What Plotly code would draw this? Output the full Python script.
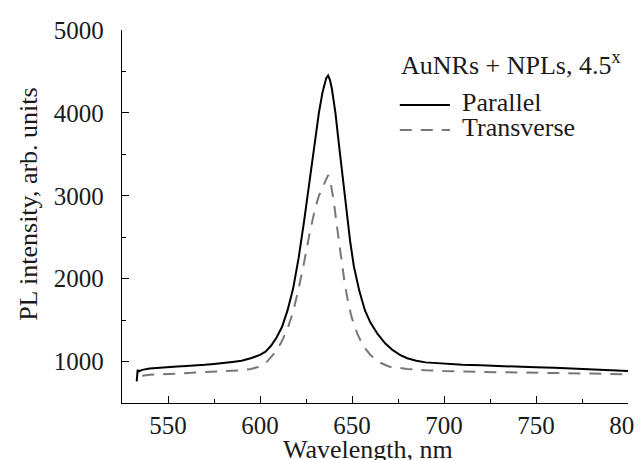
import plotly.graph_objects as go

par_wl = [533, 533.5, 534, 536, 540, 545, 550, 555, 560, 565, 570, 575, 580, 585, 590, 595, 600, 603, 606, 609,
          612, 615, 618, 621, 624, 627, 630, 632, 634, 636, 637, 638, 639, 641, 643, 645, 647, 649, 651, 654,
          657, 660, 664, 668, 672, 676, 680, 685, 690, 700, 710, 720, 730, 740, 750, 760, 770, 780, 790, 800]
par_val = [760, 900, 880, 900, 915, 925, 930, 940, 945, 950, 960, 970, 980, 995, 1010, 1040, 1080, 1120, 1190, 1290,
           1420, 1620, 1880, 2250, 2700, 3200, 3700, 4000, 4250, 4420, 4450, 4400, 4300, 4000, 3600, 3200, 2800, 2450, 2150, 1850,
           1620, 1470, 1330, 1220, 1140, 1080, 1040, 1010, 990, 975, 960, 955, 945, 940, 930, 925, 915, 905, 895, 885]

tr_wl = [536, 540, 550, 560, 570, 580, 590, 595, 600, 603, 606, 609, 612, 615, 618, 621, 624, 627, 630, 632,
         634, 636, 637, 638, 640, 642, 644, 646, 648, 650, 653, 656, 660, 665, 670, 680, 690, 700, 720, 740,
         760, 780, 800]
tr_val = [830, 840, 850, 860, 870, 880, 895, 910, 940, 980, 1050, 1130, 1250, 1400, 1600, 1880, 2200, 2550, 2850, 3000,
          3100, 3200, 3250, 3200, 2950, 2600, 2250, 1950, 1700, 1520, 1330, 1190, 1080, 990, 940, 910, 895, 885, 875, 870,
          865, 855, 845]

x_ticks = [550, 600, 650, 700, 750, 800]
y_ticks = [1000, 2000, 3000, 4000, 5000]

series_names = ["Parallel", "Transverse"]
legend_title = "AuNRs + NPLs, 4.5<sup>x</sup>"
x_title = "Wavelength, nm"
y_title = "PL intensity, arb. units"

FONT = "Liberation Serif, Times New Roman, serif"
TXT = "#1a1a1a"
FS = 26
TFS = 25
DASH = "12px,9px"

fig = go.Figure()
fig.add_trace(go.Scatter(x=par_wl, y=par_val, mode="lines", name=series_names[0], showlegend=False,
                         line=dict(color="black", width=2)))
fig.add_trace(go.Scatter(x=tr_wl, y=tr_val, mode="lines", name=series_names[1], showlegend=False,
                         line=dict(color="#777777", width=2, dash=DASH)))

axis_common = dict(showline=True, linecolor="black", linewidth=1.3, ticks="inside",
                   ticklen=7, tickwidth=1.3, tickcolor="black", showgrid=False, zeroline=False,
                   automargin=False,
                   tickfont=dict(family=FONT, size=TFS, color=TXT),
                   minor=dict(ticks="inside", ticklen=4, tickwidth=1.3, tickcolor="black", showgrid=False))

fig.update_xaxes(range=[525, 800], tickvals=x_ticks, minor_dtick=25, ticklabelstandoff=0, **axis_common)
fig.update_yaxes(range=[500, 5000], tickvals=y_ticks, minor_dtick=500, ticklabelstandoff=12, **axis_common)

tf = dict(family=FONT, size=FS, color=TXT)
# axis titles
fig.add_annotation(xref="paper", yref="paper", x=0.486, y=-0.126, xanchor="center", yanchor="middle",
                   text=x_title, showarrow=False, font=tf, borderpad=0)
fig.add_annotation(xref="paper", yref="paper", x=-0.185, y=0.535, xanchor="center", yanchor="middle",
                   text=y_title, textangle=-90, showarrow=False, font=tf, borderpad=0)

# manual legend (paper coordinates)
fig.add_annotation(xref="paper", yref="paper", x=0.549, y=0.8643, xanchor="left", yanchor="bottom",
                   text=legend_title, showarrow=False, font=tf, borderpad=0)
fig.add_annotation(xref="paper", yref="paper", x=0.670, y=0.7651, xanchor="left", yanchor="bottom",
                   text=series_names[0], showarrow=False, font=tf, borderpad=0)
fig.add_annotation(xref="paper", yref="paper", x=0.670, y=0.6981, xanchor="left", yanchor="bottom",
                   text=series_names[1], showarrow=False, font=tf, borderpad=0)
fig.add_shape(type="line", xref="paper", yref="paper", x0=0.549, x1=0.648, y0=0.7989, y1=0.7989,
              line=dict(color="black", width=2))
fig.add_shape(type="line", xref="paper", yref="paper", x0=0.549, x1=0.648, y0=0.7319, y1=0.7319,
              line=dict(color="#777777", width=2, dash=DASH))

fig.update_layout(
    width=643, height=460,
    margin=dict(l=114, r=23, t=22, b=65),
    plot_bgcolor="white", paper_bgcolor="white",
    font=dict(family=FONT, size=FS, color=TXT),
    showlegend=False,
)

fig.write_html("out.html")
